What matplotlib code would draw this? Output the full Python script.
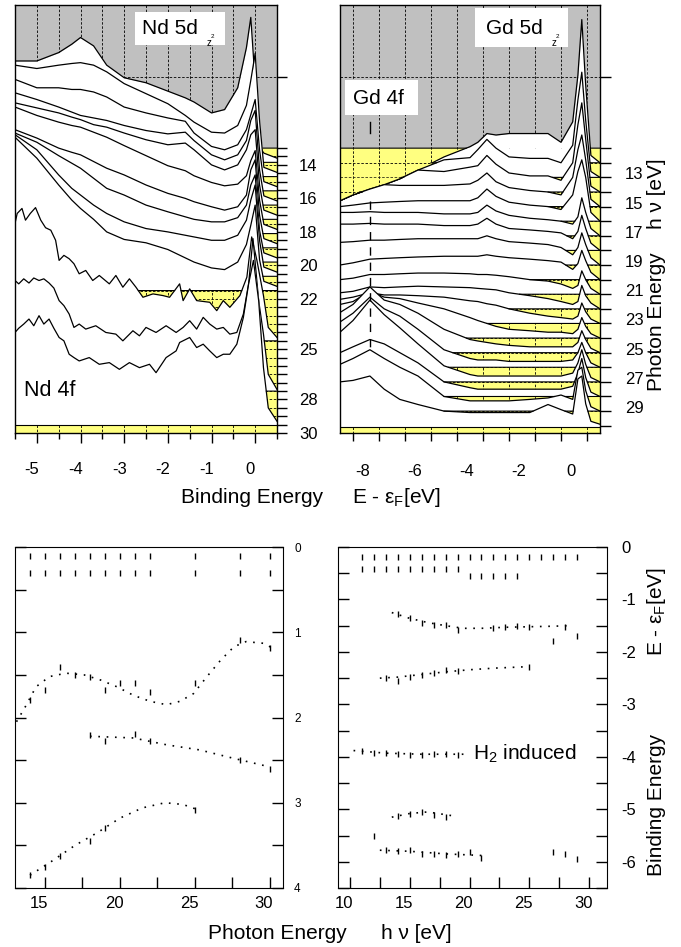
import numpy as np
import matplotlib.pyplot as plt
from matplotlib.path import Path
from matplotlib.patches import Rectangle
from matplotlib.ticker import FixedLocator
from matplotlib.transforms import ScaledTranslation

plt.rcParams['font.family'] = ['Liberation Sans', 'DejaVu Sans']
plt.rcParams['mathtext.fontset'] = 'custom'
plt.rcParams['mathtext.rm'] = 'Liberation Sans'
plt.rcParams['mathtext.it'] = 'Liberation Sans:italic'
plt.rcParams['axes.unicode_minus'] = False

GRAY = '#c0c0c0'
YELLOW = '#ffff80'

# ---------------- Nd spectra (binding energy, intensity above own baseline) ----------------
nd_x = [-5.5, -5.0, -4.5, -4.2, -4.0, -3.7, -3.4, -3.0, -2.5, -2.0, -1.6, -1.4,
        -1.0, -0.7, -0.4, -0.2, -0.1, 0.0, 0.1, 0.2, 0.5]
nd_smooth_base = [13.0, 13.85, 14.7, 15.55, 16.4, 17.25, 18.1, 18.95, 19.8, 20.65]
nd_smooth = [
    [5.2, 5.2, 5.7, 6.2, 6.6, 6.1, 4.95, 4.2, 3.9, 3.4, 3.0, 2.75, 2.1, 2.3, 3.6, 6.0, 7.8, 3.9, 0.05, -0.3, -0.6],
    [5.8, 5.6, 5.8, 5.9, 5.95, 5.8, 5.4, 4.7, 4.1, 3.5, 2.8, 2.4, 1.8, 1.75, 2.2, 3.4, 4.9, 6.5, 2.5, -0.3, -0.6],
    [5.8, 5.3, 5.3, 5.2, 5.2, 5.05, 4.75, 4.15, 3.8, 3.5, 3.3, 2.6, 1.8, 1.6, 1.9, 2.8, 3.7, 4.6, 1.6, -0.3, -0.6],
    [5.85, 5.45, 5.0, 4.7, 4.5, 4.35, 4.2, 3.9, 3.6, 3.4, 3.5, 3.0, 2.15, 1.85, 2.15, 3.0, 4.2, 4.8, 1.25, -0.3, -0.6],
    [6.1, 5.8, 5.5, 5.25, 5.1, 4.8, 4.65, 4.3, 3.9, 3.6, 3.7, 3.3, 2.4, 2.1, 2.4, 3.3, 4.2, 4.5, 1.2, -0.3, -0.6],
    [6.7, 6.2, 5.8, 5.6, 5.5, 5.2, 4.9, 4.4, 3.8, 3.2, 2.9, 2.6, 2.2, 2.0, 2.1, 2.6, 3.5, 4.1, 1.15, -0.3, -0.6],
    [6.2, 5.7, 5.1, 4.85, 4.7, 4.3, 3.9, 3.5, 2.9, 2.4, 2.1, 1.9, 1.6, 1.4, 1.6, 2.3, 3.8, 4.4, 1.1, -0.3, -0.6],
    [6.85, 6.3, 5.5, 5.05, 4.75, 4.15, 3.55, 3.15, 2.55, 2.15, 1.85, 1.7, 1.55, 1.55, 1.8, 2.55, 3.75, 4.35, 1.05, -0.3, -0.6],
    [7.6, 6.7, 5.2, 4.4, 4.0, 3.4, 2.9, 2.4, 2.0, 1.8, 1.6, 1.5, 1.3, 1.3, 1.6, 2.5, 3.7, 4.6, 1.3, -0.3, -0.6],
    [8.3, 7.05, 5.45, 4.55, 4.05, 3.4, 2.65, 2.2, 2.0, 1.6, 1.1, 0.85, 0.5, 0.4, 0.85, 1.9, 3.05, 4.25, 1.0, -0.3, -0.6],
]

# resonant (noisy) Nd spectra
nd_n1_x = [-5.5, -5.45, -5.34, -5.26, -5.15, -5.03, -4.91, -4.8, -4.68, -4.57, -4.49, -4.38, -4.26, -4.15,
           -4.03, -3.88, -3.72, -3.57, -3.34, -3.19, -3.03, -2.88, -2.73, -2.57, -2.34, -2.11, -1.96, -1.73,
           -1.65, -1.5, -1.34, -1.04, -0.88, -0.73, -0.58, -0.35, -0.19, -0.08, 0.04, 0.19, 0.3, 0.5]
nd_n1 = [4.0, 4.6, 4.9, 4.2, 4.6, 4.95, 4.2, 3.75, 3.6, 3.0, 1.8, 2.1, 1.9, 1.6, 1.0, 1.2, 0.6, 0.9, 0.4, 0.9,
         0.2, 0.7, 0.2, -0.4, -0.2, -0.3, -0.4, 0.4, -0.6, 0.1, -0.6, -0.7, -1.2, -0.6, -1.0, -0.3, 0.8, 3.2,
         1.8, -0.3, -2.2, -2.8]
nd_n2_x = [-5.5, -5.415, -5.3, -5.18, -5.07, -4.95, -4.84, -4.72, -4.61, -4.49, -4.38, -4.26, -4.15, -4.03,
           -3.88, -3.65, -3.42, -3.19, -3.03, -2.8, -2.65, -2.5, -2.27, -2.04, -1.81, -1.65, -1.5, -1.34, -1.19,
           -1.04, -0.88, -0.73, -0.58, -0.42, -0.27, -0.15, -0.05, 0.08, 0.19, 0.3, 0.5]
nd_n2 = [3.6, 3.4, 3.7, 3.45, 3.75, 3.6, 3.7, 3.45, 3.15, 2.4, 2.1, 1.6, 0.8, 1.0, 0.7, 0.9, 0.5, 0.4, 0.0, 0.6,
         0.3, 0.8, 0.5, 0.9, 0.5, 0.8, 1.2, 0.7, 1.4, 1.0, 0.7, 0.8, 0.4, 0.5, 1.6, 3.4, 6.1, 2.4, 0.4, -2.0, -2.9]
nd_n3_x = [-5.5, -5.415, -5.3, -5.18, -5.07, -4.95, -4.84, -4.72, -4.61, -4.49, -4.38, -4.26, -4.15, -4.03,
           -3.8, -3.57, -3.34, -3.11, -2.88, -2.65, -2.42, -2.27, -2.04, -1.81, -1.73, -1.5, -1.34, -1.19, -1.04,
           -0.88, -0.73, -0.58, -0.42, -0.27, -0.15, -0.04, 0.08, 0.19, 0.3, 0.5]
nd_n3 = [3.5, 3.75, 4.0, 4.3, 3.9, 4.5, 4.0, 4.3, 3.75, 3.2, 3.0, 2.2, 2.0, 1.8, 2.0, 1.6, 1.7, 1.3, 1.7, 1.4,
         1.6, 1.1, 2.0, 2.4, 2.9, 3.2, 2.6, 2.8, 2.4, 2.0, 2.2, 2.2, 2.8, 4.4, 6.4, 7.8, 5.4, 1.4, -1.0, -1.8]
nd_noisy_base = [21.5, 24.5, 27.5]
nd_labels = [14, 16, 18, 20, 22, 25, 28, 30]

# ---------------- Gd spectra ----------------
gd_x = [-9.5, -9.0, -8.35, -7.8, -7.2, -6.5, -5.5, -4.5, -4.2, -3.85, -3.5, -3.0, -2.2, -1.5, -1.0,
        -0.55, -0.35, -0.2, -0.05, 0.15, 0.5]
gd_base = list(range(11, 30))
gd_spec = [
    [-3.6, -3.2, -2.8, -2.5, -2.1, -1.5, -0.6, 0.1, 0.4, 1.0, 0.9, 1.0, 1.0, 1.0, 0.4, 1.8, 5.0, 8.8, 4.3, -0.5, -1.0],
    [-2.6, -2.2, -1.8, -1.5, -1.1, -0.5, 0.2, 0.35, 0.9, 1.6, 1.0, 0.4, 0.3, 0.3, 0.0, 1.2, 4.3, 6.2, 2.9, -0.6, -1.0],
    [-1.6, -1.2, -0.8, -0.5, -0.1, 0.5, 0.4, 0.7, 0.8, 1.5, 0.9, 0.3, 0.1, 0.1, -0.2, 1.0, 3.6, 5.1, 2.6, -0.6, -1.0],
    [-0.6, -0.2, 0.2, 0.5, 0.45, 0.45, 0.45, 0.55, 0.8, 1.3, 0.7, 0.3, 0.1, 0.0, -0.2, 1.0, 2.9, 3.9, 2.2, -0.5, -1.0],
    [0.0, 0.1, 0.25, 0.3, 0.35, 0.4, 0.4, 0.4, 0.6, 1.2, 0.7, 0.3, 0.1, 0.0, -0.2, 0.8, 2.4, 3.2, 2.0, -0.4, -1.0],
    [0.6, 0.6, 0.65, 0.6, 0.6, 0.6, 0.5, 0.5, 0.6, 1.1, 0.7, 0.4, 0.2, 0.1, 0.0, -0.2, 0.3, 1.6, 0.6, -0.5, -1.0],
    [0.8, 0.8, 0.85, 0.8, 0.8, 0.8, 0.7, 0.7, 0.8, 1.2, 0.8, 0.5, 0.4, 0.3, 0.2, -0.2, 0.3, 1.4, 0.5, -0.5, -1.0],
    [0.55, 0.6, 0.7, 0.7, 0.75, 0.8, 0.8, 0.8, 0.8, 1.0, 0.8, 0.6, 0.5, 0.4, 0.2, -0.3, 0.2, 1.2, 0.4, -0.5, -1.0],
    [0.0, 0.15, 0.4, 0.45, 0.5, 0.55, 0.6, 0.6, 0.6, 0.7, 0.6, 0.5, 0.4, 0.3, 0.2, -0.3, 0.1, 1.0, 0.3, -0.5, -1.0],
    [0.0, 0.1, 0.35, 0.35, 0.4, 0.45, 0.45, 0.4, 0.35, 0.35, 0.3, 0.2, 0.0, -0.1, -0.3, -0.6, -0.4, 0.6, 0.0, -0.6, -1.0],
    [0.1, 0.2, 0.5, 0.45, 0.5, 0.55, 0.5, 0.45, 0.4, 0.35, 0.3, 0.1, -0.1, -0.3, -0.5, -0.7, -0.5, 0.6, -0.1, -0.6, -1.0],
    [0.65, 0.8, 1.1, 0.95, 0.95, 0.9, 0.8, 0.55, 0.5, 0.35, 0.25, 0.0, -0.3, -0.5, -0.6, -0.7, -0.5, 0.4, -0.2, -0.7, -1.0],
    [1.3, 1.5, 2.2, 1.8, 1.7, 1.4, 1.0, 0.4, 0.2, 0.0, -0.2, -0.4, -0.5, -0.6, -0.6, -0.7, -0.4, 0.4, -0.2, -0.7, -1.0],
    [1.75, 2.3, 3.5, 2.6, 2.3, 1.7, 0.6, -0.1, -0.2, -0.3, -0.4, -0.5, -0.6, -0.6, -0.6, -0.6, -0.3, 0.5, -0.1, -0.7, -1.0],
    [2.1, 2.7, 3.8, 3.0, 2.5, 1.6, 0.2, -0.4, -0.5, -0.5, -0.5, -0.6, -0.6, -0.6, -0.6, -0.5, 0.0, 0.7, 0.0, -0.7, -1.0],
    [2.4, 3.2, 4.6, 3.6, 2.7, 1.6, 0.1, -0.5, -0.6, -0.6, -0.6, -0.6, -0.6, -0.6, -0.6, -0.4, 0.3, 1.2, 0.2, -0.7, -1.0],
    [2.0, 2.4, 2.9, 2.6, 2.0, 1.3, 0.0, -0.4, -0.5, -0.5, -0.5, -0.5, -0.5, -0.5, -0.5, -0.3, 0.6, 1.6, 0.3, -0.7, -1.0],
    [2.2, 2.6, 3.2, 2.6, 2.0, 1.4, 0.0, -0.3, -0.3, -0.3, -0.3, -0.3, -0.2, -0.1, 0.1, -0.2, 1.8, 2.0, 0.4, -0.7, -1.0],
    [2.0, 2.1, 2.4, 1.5, 0.8, 0.45, 0.0, -0.1, -0.1, -0.1, -0.1, -0.1, -0.1, 0.45, 0.1, -0.2, 2.2, 2.4, 0.5, -0.7, -0.9],
]
gd_labels = [13, 15, 17, 19, 21, 23, 25, 27, 29]

# ---------------- Nd dispersion (photon energy vs binding energy) ----------------
nd_top_hv = [14, 15, 16, 17, 18, 19, 20, 21, 22, 25, 28, 30]
nd_top_be1 = [0.1] * 12
nd_top_be2 = [0.3] * 12
nd_b1_hv = [14, 15, 16, 17, 18, 19, 20, 21, 22, 25, 28, 30]
nd_b1_be = [1.8, 1.68, 1.41, 1.5, 1.52, 1.68, 1.6, 1.6, 1.7, 1.6, 1.09, 1.19]
nd_b1_fit_hv = [13.1, 13.7, 14.4, 15.3, 16.4, 17.6, 18.7, 19.8, 20.9, 22.0, 23.1, 24.0, 24.9, 25.8, 26.7,
                27.6, 28.4, 29.6, 30.4]
nd_b1_fit_be = [2.05, 1.87, 1.64, 1.52, 1.48, 1.5, 1.56, 1.64, 1.74, 1.81, 1.85, 1.81, 1.72, 1.52, 1.33,
                1.17, 1.11, 1.13, 1.21]
nd_b2_hv = [18, 19, 21, 22, 28, 30]
nd_b2_be = [2.2, 2.28, 2.19, 2.28, 2.5, 2.6]
nd_b2_fit_hv = [18.0, 20.9, 23.1, 25.3, 27.6, 30.0]
nd_b2_fit_be = [2.22, 2.24, 2.32, 2.38, 2.48, 2.58]
nd_b3_hv = [14, 15, 16, 18, 19, 25]
nd_b3_be = [3.85, 3.75, 3.62, 3.45, 3.3, 3.08]
nd_b3_fit_hv = [14.0, 15.5, 17.0, 18.5, 20.0, 21.5, 23.0, 24.2, 25.0]
nd_b3_fit_be = [3.85, 3.68, 3.5, 3.35, 3.18, 3.06, 3.0, 3.02, 3.07]

# ---------------- Gd dispersion ----------------
gd_top1_hv = list(range(11, 30))
gd_top1_be = [-0.2] * 19
gd_top2_hv = list(range(11, 25))
gd_top2_be = [-0.42] * 9 + [-0.55] * 5
gd_b2_hv = [14, 15, 16, 17, 18, 19, 22, 23, 24, 25, 27, 28, 29]
gd_b2_be = [-1.27, -1.35, -1.45, -1.49, -1.49, -1.58, -1.54, -1.52, -1.5, -1.52, -1.8, -1.52, -1.7]
gd_b2_fit_hv = [13.5, 15, 16.5, 18, 19.5, 21, 23, 25, 27, 28.3]
gd_b2_fit_be = [-1.25, -1.36, -1.44, -1.5, -1.55, -1.55, -1.53, -1.52, -1.51, -1.5]
gd_b3_hv = [13, 14, 15, 16, 17, 18, 19, 25]
gd_b3_be = [-2.5, -2.56, -2.47, -2.44, -2.4, -2.34, -2.37, -2.28]
gd_b3_fit_hv = [12.5, 14, 16, 18, 20, 22, 25]
gd_b3_fit_be = [-2.5, -2.48, -2.43, -2.38, -2.34, -2.31, -2.28]
gd_h2_hv = [11, 12, 13, 14, 15, 16, 17, 18, 19]
gd_h2_be = [-3.88, -3.92, -3.93, -3.95, -3.96, -3.96, -3.95, -3.95, -3.96]
gd_h2_fit_hv = [10.3, 13, 16, 19.5]
gd_h2_fit_be = [-3.88, -3.93, -3.95, -3.95]
gd_b5_hv = [14, 15, 16, 17, 18]
gd_b5_be = [-5.12, -5.08, -5.05, -5.1, -5.15]
gd_b5_fit_hv = [13.5, 15, 16.5, 18.5]
gd_b5_fit_be = [-5.15, -5.08, -5.05, -5.12]
gd_b6_hv = [12, 13, 14, 15, 16, 17, 18, 19, 20, 21, 27, 28, 29]
gd_b6_be = [-5.5, -5.78, -5.8, -5.78, -5.85, -5.85, -5.88, -5.85, -5.82, -5.92, -5.82, -5.85, -5.95]
gd_b6_fit_hv = [12.5, 15, 18, 21]
gd_b6_fit_be = [-5.78, -5.8, -5.85, -5.88]

W, H = 681, 947
fig = plt.figure(figsize=(W / 100, H / 100), dpi=100)


def box(l, t, r, b):
    return [l / W, 1 - b / H, (r - l) / W, (b - t) / H]


def fx(px):
    return px / W


def fy(py):
    return 1 - py / H


def shift(labels, dx, dy):
    off = ScaledTranslation(dx / 100, -dy / 100, fig.dpi_scale_trans)
    for t in labels:
        t.set_transform(t.get_transform() + off)


def waterfall(ax, spectra, xlim, ylim, xgrid, ygrid, wall_line, band):
    x0, x1 = xlim
    ybot, ytop = ylim
    b0 = spectra[0][2]
    dash = (0, (3, 2))
    ax.fill_between([x0, x1], ytop, b0, color=GRAY, lw=0, zorder=0.5)
    ax.vlines(xgrid, ytop, b0, colors='k', lw=0.6, linestyles=dash, zorder=0.8)
    ax.hlines([wall_line], x0, x1, colors='k', lw=0.6, linestyles=dash, zorder=0.8)
    xf = np.linspace(x0, x1, 1500)
    prev = None
    for k, (x, inten, base) in enumerate(spectra):
        x = np.asarray(x, float)
        y = base - np.asarray(inten, float)
        z = 2 + 0.01 * k
        ax.fill_between(x, y, base, where=y <= base, interpolate=True,
                        color='white', lw=0, zorder=z)
        yel = ax.fill_between(x, y, base, where=y >= base, interpolate=True,
                              facecolor=YELLOW, edgecolor='none', lw=0, zorder=z)
        paths = yel.get_paths()
        if len(paths):
            clip = Path.make_compound_path(*paths)
            for coll in (ax.vlines(xgrid, ytop, ybot, colors='k', lw=0.6, linestyles=dash),
                         ax.hlines(ygrid, x0, x1, colors='k', lw=0.6, linestyles=dash)):
                coll.set_zorder(z + 0.001)
                coll.set_clip_path(clip, ax.transData)
        # solid baseline only where the curve has dropped below it in the visible area
        yf = np.interp(xf, x, y)
        show = yf > base
        if prev is not None:
            show &= base >= prev - 0.05
        ax.plot(xf, np.where(show, base, np.nan), color='k', lw=0.8, zorder=z + 0.002)
        ax.plot(x, y, color='k', lw=0.9, zorder=z + 0.002)
        prev = yf
    ax.fill_between([x0, x1], band, ybot, facecolor=YELLOW, edgecolor='none', lw=0, zorder=3)
    ax.hlines([band], x0, x1, colors='k', lw=0.8, zorder=3.1)
    ax.vlines(xgrid, band, ybot, colors='k', lw=0.6, linestyles=dash, zorder=3.1)
    ax.set_xlim(x0, x1)
    ax.set_ylim(ybot, ytop)
    for s in ax.spines.values():
        s.set_linewidth(1.0)
        s.set_zorder(5)


# ---------------- top left: Nd ----------------
axA = fig.add_axes(box(15, 5, 277, 433))
nd_spectra = [(nd_x, s, b) for s, b in zip(nd_smooth, nd_smooth_base)]
nd_spectra += [(nd_n1_x, nd_n1, nd_noisy_base[0]), (nd_n2_x, nd_n2, nd_noisy_base[1]),
               (nd_n3_x, nd_n3, nd_noisy_base[2])]
waterfall(axA, nd_spectra, (-5.5, 0.5), (30.0, 4.46), np.arange(-5.0, 0.01, 0.5),
          np.arange(13.5, 29.6, 0.5), 8.76, 29.5)
axA.xaxis.set_major_locator(FixedLocator([-5, -4, -3, -2, -1, 0]))
axA.xaxis.set_minor_locator(FixedLocator(np.arange(-5.5, 0.51, 0.5)))
axA.yaxis.tick_right()
axA.yaxis.set_major_locator(FixedLocator(nd_labels))
axA.yaxis.set_minor_locator(FixedLocator(list(np.arange(13, 30.01, 0.5)) + [8.76]))
axA.tick_params(axis='x', which='major', direction='out', length=7, width=1, pad=14, labelsize=12)
axA.tick_params(axis='x', which='minor', direction='out', length=4, width=1)
axA.tick_params(axis='y', which='both', direction='out', length=7, width=1, pad=9, labelsize=12,
                left=False, right=True)
shift(axA.get_xticklabels(), -5, 0)

# ---------------- top right: Gd ----------------
axB = fig.add_axes(box(340, 5, 600, 433))
gd_spectra = [(gd_x, s, b) for s, b in zip(gd_spec, gd_base)]
waterfall(axB, gd_spectra, (-9.5, 0.5), (30.5, 1.2), np.arange(-9, 0.01, 1.0),
          np.arange(12, 30.01, 1.0), 6.14, 30.1)
axB.plot([-8.35, -8.35], [9.2, 9.95], color='k', lw=1.0, zorder=6)
axB.plot([-8.35, -8.35], [14.6, 24.6], color='k', lw=1.0, dashes=(6, 5), zorder=6)
axB.xaxis.set_major_locator(FixedLocator([-8, -6, -4, -2, 0]))
axB.xaxis.set_minor_locator(FixedLocator(np.arange(-9, 0.01, 1.0)))
axB.yaxis.tick_right()
axB.yaxis.set_major_locator(FixedLocator(gd_labels))
axB.yaxis.set_minor_locator(FixedLocator(list(range(11, 31)) + [6.14]))
axB.tick_params(axis='x', which='both', direction='out', length=6, width=1, pad=16, labelsize=12)
axB.tick_params(axis='y', which='both', direction='out', length=8, width=1, pad=10, labelsize=12,
                left=False, right=True)
shift(axB.get_xticklabels(), -16, 0)
shift(axB.get_yticklabels(), 0, -4)

# ---------------- bottom left: Nd dispersion ----------------
axC = fig.add_axes(box(15, 547, 283, 888))
dot = (0, (1, 4))
axC.plot(nd_b1_fit_hv, nd_b1_fit_be, color='k', lw=1.2, ls=dot)
axC.plot(nd_b2_fit_hv, nd_b2_fit_be, color='k', lw=1.2, ls=dot)
axC.plot(nd_b3_fit_hv, nd_b3_fit_be, color='k', lw=1.2, ls=dot)
for hv, be in [(nd_top_hv, nd_top_be1), (nd_top_hv, nd_top_be2), (nd_b1_hv, nd_b1_be),
               (nd_b2_hv, nd_b2_be), (nd_b3_hv, nd_b3_be)]:
    axC.plot(hv, be, ls='none', marker='|', ms=5, mew=1.0, color='k')
axC.set_xlim(13.0, 30.87)
axC.set_ylim(4, 0)
axC.xaxis.set_major_locator(FixedLocator([15, 20, 25, 30]))
axC.xaxis.set_minor_locator(FixedLocator([17.5, 22.5, 27.5]))
axC.yaxis.tick_right()
axC.yaxis.set_major_locator(FixedLocator([0, 1, 2, 3, 4]))
axC.yaxis.set_minor_locator(FixedLocator([0.5, 1.5, 2.5, 3.5]))
axC.tick_params(axis='x', which='both', direction='in', length=8, width=1, pad=6, labelsize=12,
                top=False)
axC.tick_params(axis='y', which='both', direction='in', length=8, width=1, pad=8, labelsize=8.5,
                left=True, right=True)
shift(axC.get_xticklabels(), -6, 0)

# ---------------- bottom right: Gd dispersion ----------------
axD = fig.add_axes(box(338, 547, 607, 888))
for hv, be in [(gd_b2_fit_hv, gd_b2_fit_be), (gd_b3_fit_hv, gd_b3_fit_be), (gd_h2_fit_hv, gd_h2_fit_be),
               (gd_b5_fit_hv, gd_b5_fit_be), (gd_b6_fit_hv, gd_b6_fit_be)]:
    axD.plot(hv, be, color='k', lw=1.2, ls=dot)
for hv, be in [(gd_top1_hv, gd_top1_be), (gd_top2_hv, gd_top2_be), (gd_b2_hv, gd_b2_be),
               (gd_b3_hv, gd_b3_be), (gd_h2_hv, gd_h2_be), (gd_b5_hv, gd_b5_be), (gd_b6_hv, gd_b6_be)]:
    axD.plot(hv, be, ls='none', marker='|', ms=5, mew=1.0, color='k')
axD.set_xlim(9.0, 31.5)
axD.set_ylim(-6.5, 0)
axD.xaxis.set_major_locator(FixedLocator([10, 15, 20, 25, 30]))
axD.xaxis.set_minor_locator(FixedLocator([12.5, 17.5, 22.5, 27.5]))
axD.yaxis.tick_right()
axD.yaxis.set_major_locator(FixedLocator([0, -1, -2, -3, -4, -5, -6]))
axD.yaxis.set_minor_locator(FixedLocator([-0.5, -1.5, -2.5, -3.5, -4.5, -5.5, -6.5]))
axD.tick_params(axis='x', which='both', direction='in', length=8, width=1, pad=6, labelsize=12,
                top=False)
axD.tick_params(axis='y', which='both', direction='in', length=8, width=1, pad=10, labelsize=12,
                left=True, right=True)
shift(axD.get_xticklabels(), -6, 0)
axD.text(20.3, -3.95, r'H$_2$ induced', fontsize=15, ha='left', va='center')

# ---------------- labels and boxes ----------------
for (l, t, r, b) in [(135, 12, 225, 45), (475, 8, 568, 47), (345, 80, 418, 115)]:
    fig.add_artist(Rectangle((fx(l), fy(b)), (r - l) / W, (b - t) / H, transform=fig.transFigure,
                             facecolor='white', edgecolor='none', zorder=6))
fig.text(fx(170), fy(29), 'Nd 5d', fontsize=15, ha='center', va='center', zorder=7)
fig.text(fx(209), fy(43), 'z', fontsize=7, ha='center', va='center', zorder=7)
fig.text(fx(212.5), fy(37), '2', fontsize=4.5, ha='center', va='center', zorder=7)
fig.text(fx(514), fy(29), 'Gd 5d', fontsize=15, ha='center', va='center', zorder=7)
fig.text(fx(554), fy(43), 'z', fontsize=7, ha='center', va='center', zorder=7)
fig.text(fx(557.5), fy(37), '2', fontsize=4.5, ha='center', va='center', zorder=7)
fig.text(fx(378), fy(98), 'Gd 4f', fontsize=15, ha='center', va='center', zorder=7)
fig.text(fx(50), fy(390), 'Nd 4f', fontsize=15.5, ha='center', va='center', zorder=7)

fig.text(fx(252), fy(497), 'Binding Energy', fontsize=15, ha='center', va='center')
fig.text(fx(397), fy(497), r'E - ε$_\mathrm{F}$[eV]', fontsize=15, ha='center', va='center')
fig.text(fx(657), fy(322), 'Photon Energy', fontsize=15, ha='center', va='center', rotation=90)
fig.text(fx(657), fy(194), 'h ν [eV]', fontsize=15, ha='center', va='center', rotation=90)
fig.text(fx(277), fy(933), 'Photon Energy', fontsize=15, ha='center', va='center')
fig.text(fx(416), fy(933), 'h ν [eV]', fontsize=15, ha='center', va='center')
fig.text(fx(657), fy(805), 'Binding Energy', fontsize=15, ha='center', va='center', rotation=90)
fig.text(fx(657), fy(611), r'E - ε$_\mathrm{F}$[eV]', fontsize=15, ha='center', va='center', rotation=90)

fig.savefig('out.png', dpi=100)
